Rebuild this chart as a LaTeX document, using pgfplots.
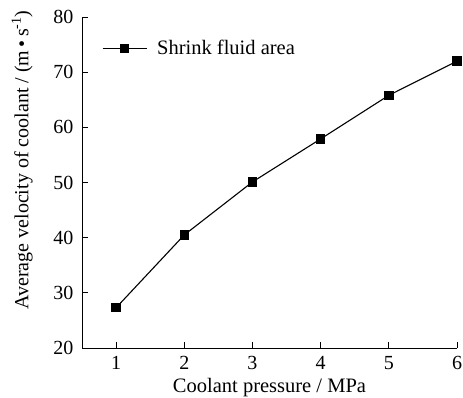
\documentclass[border=0pt]{standalone}
\usepackage{pgfplots}
\pgfplotsset{compat=1.18}
\usepackage{fontspec}
\setmainfont{Liberation Serif}
\begin{document}
\begin{tikzpicture}
\begin{axis}[
  name=ax,
  scale only axis,
  width=375pt, height=331pt,
  xmin=0.5, xmax=6, ymin=20, ymax=80,
  axis lines*=left,
  axis line style={line width=0.9pt, -},
  xtick={1,2,3,4,5,6},
  ytick={20,30,40,50,60,70,80},
  tick align=inside,
  major tick length=6pt,
  tick style={line width=0.9pt, black},
  /pgf/number format/assume math mode=true,
  tick label style={font=\fontsize{20}{20}\selectfont},
  xticklabel style={yshift=-5pt},
  yticklabel style={xshift=-5pt},
  xlabel={Coolant pressure / MPa},
  xlabel style={font=\fontsize{20.5}{20}\selectfont, yshift=-1pt},
  ylabel={Average velocity of coolant / (m\,\textbullet\,s\textsuperscript{-1})},
  ylabel style={font=\fontsize{20}{20}\selectfont, at={(ticklabel cs:0.568)}, anchor=south, yshift=14pt},
  legend style={draw=none, fill=none, at={(rel axis cs:0.05,0.905)}, anchor=west, font=\fontsize{20.5}{20}\selectfont, inner sep=1pt},
  legend cell align=left,
  legend image code/.code={
    \draw[line width=1.1pt] (0cm,0cm) -- (1.55cm,0cm);
    \fill[black] (0.775cm,0cm) +(-4.2pt,-4.2pt) rectangle +(4.2pt,4.2pt);
  },
  legend style={/tikz/every odd column/.append style={column sep=8pt}},
]
\addplot[black, line width=1.1pt, mark=square*, mark size=4.2pt, mark options={solid, fill=black}]
  coordinates {(1,27.3) (2,40.5) (3,50.1) (4,57.9) (5,65.8) (6,72.0)};
\addlegendentry{Shrink fluid area}
\end{axis}
\pgfresetboundingbox
\path[use as bounding box] ([xshift=-82pt,yshift=-49pt]ax.south west) rectangle ([xshift=6pt,yshift=17pt]ax.north east);
\end{tikzpicture}
\end{document}
